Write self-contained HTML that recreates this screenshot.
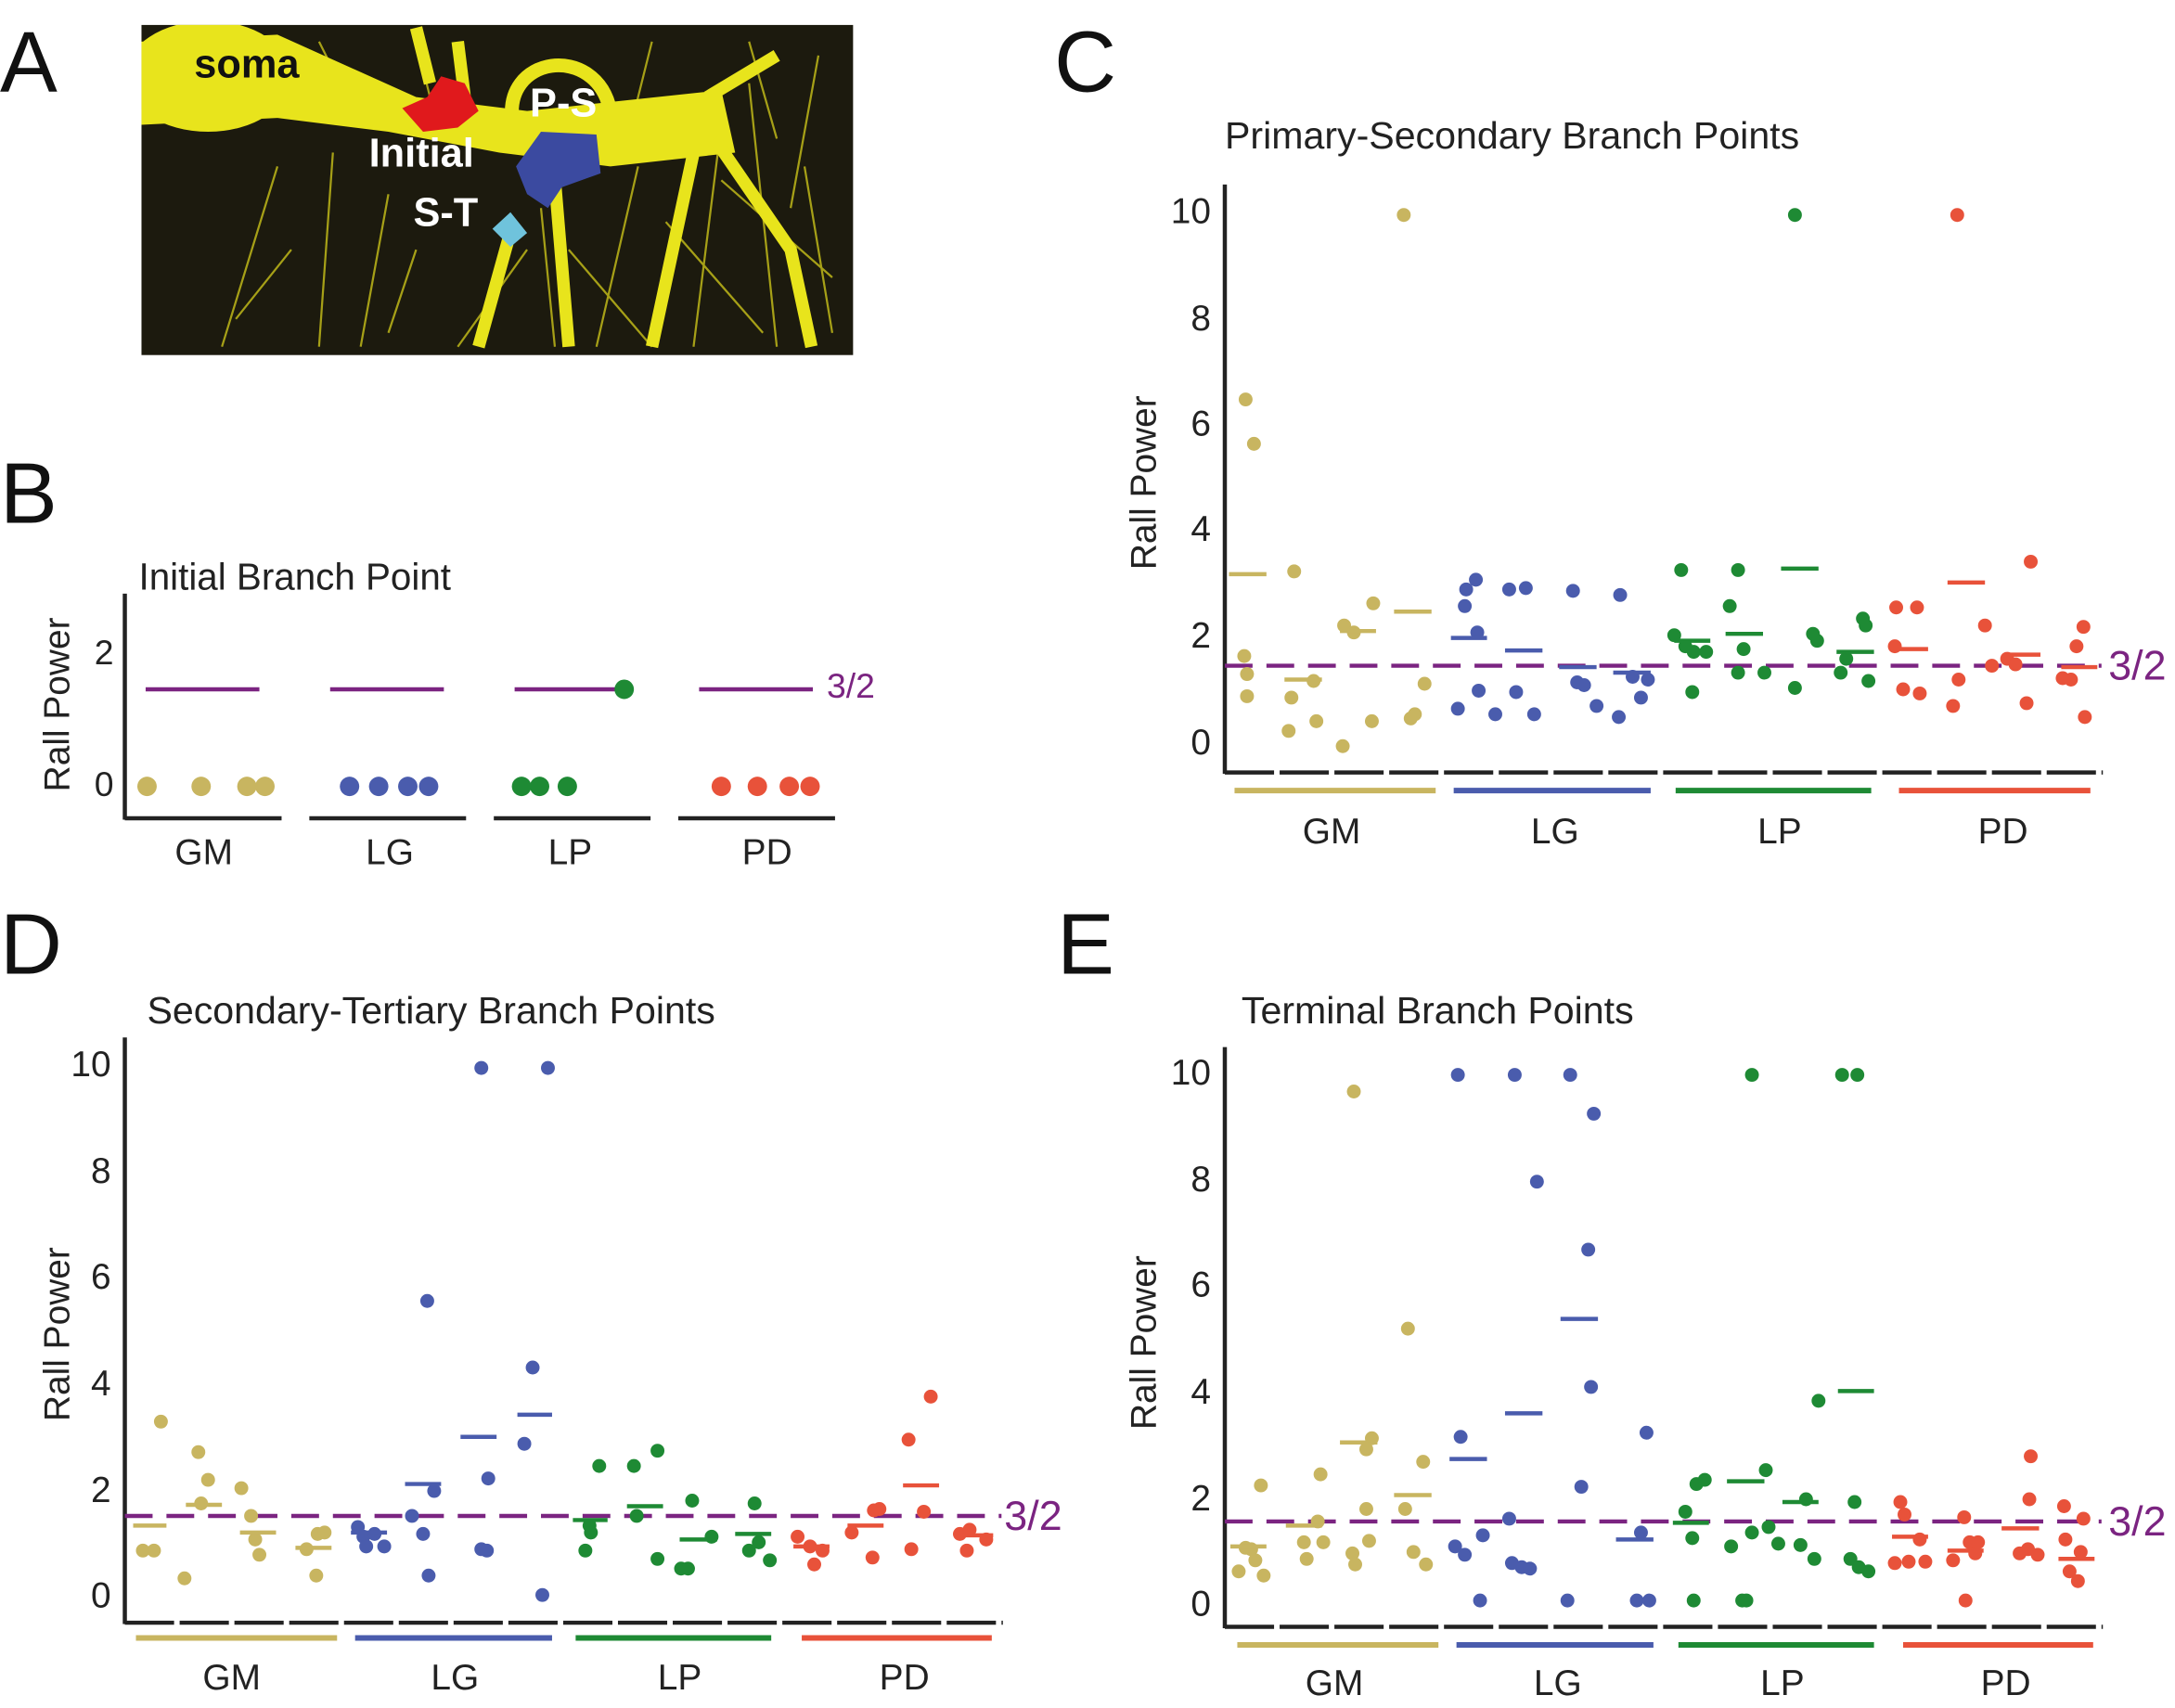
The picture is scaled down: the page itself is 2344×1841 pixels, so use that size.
<!DOCTYPE html>
<html><head><meta charset="utf-8"><style>
html,body{margin:0;padding:0;background:#fff;}
svg{display:block;}
text{font-family:"Liberation Sans",Arial,sans-serif;}
</style></head><body>
<svg width="2344" height="1841" viewBox="0 0 1568 1231.5" preserveAspectRatio="none" xmlns="http://www.w3.org/2000/svg">
<defs><clipPath id="ca"><rect x="102" y="18" width="513" height="238"/></clipPath></defs>
<rect width="1568" height="1232" fill="#fff"/>
<g font-size="62" fill="#111">
<text x="0" y="66">A</text><text x="0" y="377">B</text><text x="760" y="66">C</text><text x="0" y="702">D</text><text x="762" y="702">E</text>
</g>
<rect x="102" y="18" width="513" height="238" fill="#1c1a0e"/>
<g clip-path="url(#ca)">
<g stroke="#c9c21a" stroke-width="1.5" fill="none" opacity="0.8">
<path d="M160 250 L200 120 M230 250 L240 110 M260 250 L280 140 M400 250 L390 150 M430 250 L460 120 M500 250 L520 90 M560 250 L540 60 M600 240 L580 120 M470 30 L450 110 M540 30 L560 100 M590 40 L570 150 M230 30 L260 90 M300 30 L310 70 M410 180 L470 250 M380 180 L330 250 M210 180 L170 230 M520 130 L600 200 M480 160 L550 240 M300 180 L280 240"/>
</g>
<g fill="#e8e41c" stroke="#e8e41c">
<ellipse cx="150" cy="55" rx="60" ry="40" stroke="none"/>
<path d="M102 30 L200 25 L300 70 L380 80 L520 65 L530 110 L440 120 L360 110 L280 95 L200 85 L102 90 Z" stroke="none"/>
<path d="M370 90 C360 40 430 30 440 80" fill="none" stroke-width="10"/>
<path d="M510 70 L560 40 M515 100 L570 180 L585 250 M500 110 L470 250 M400 130 L410 250 M370 160 L345 250 M330 30 L335 70 M300 20 L310 60" fill="none" stroke-width="9"/>
</g>
</g>
<polygon points="290,78 308,70 318,55 335,60 345,80 330,92 305,95" fill="#e0191c"/>
<polygon points="372,120 390,95 430,97 433,125 405,135 395,150 380,140" fill="#3b4aa0"/>
<polygon points="355,165 368,153 380,168 368,178" fill="#6fc3dc"/>
<g font-weight="bold" font-size="29" fill="#fff">
<text x="140" y="56" fill="#111">soma</text><text x="382" y="84">P-S</text><text x="266" y="120">Initial</text><text x="298" y="163">S-T</text>
</g>

<!-- Panel B -->
<text x="100" y="425" font-size="27" fill="#222">Initial Branch Point</text>
<line x1="90" y1="428" x2="90" y2="591" stroke="#222" stroke-width="3"/>
<line x1="90" y1="590" x2="603" y2="590" stroke="#222" stroke-width="3" stroke-dasharray="113 20"/>
<g font-size="25" fill="#222" text-anchor="end"><text x="82" y="479">2</text><text x="82" y="574">0</text></g>
<text transform="translate(50,508) rotate(-90)" font-size="26" text-anchor="middle" fill="#222">Rall Power</text>
<g font-size="26" fill="#222" text-anchor="middle"><text x="147" y="623">GM</text><text x="281" y="623">LG</text><text x="411" y="623">LP</text><text x="553" y="623">PD</text></g>
<g stroke="#7b2481" stroke-width="3"><line x1="105" y1="497" x2="187" y2="497"/><line x1="238" y1="497" x2="320" y2="497"/><line x1="371" y1="497" x2="453" y2="497"/><line x1="504" y1="497" x2="586" y2="497"/></g>
<text x="596" y="503" font-size="25" fill="#7b2481">3/2</text>
<g fill="#c8b560"><circle cx="106" cy="567" r="7"/><circle cx="145" cy="567" r="7"/><circle cx="178" cy="567" r="7"/><circle cx="191" cy="567" r="7"/></g>
<g fill="#4a5cad"><circle cx="252" cy="567" r="7"/><circle cx="273" cy="567" r="7"/><circle cx="294" cy="567" r="7"/><circle cx="309" cy="567" r="7"/></g>
<g fill="#1e8a34"><circle cx="376" cy="567" r="7"/><circle cx="389" cy="567" r="7"/><circle cx="409" cy="567" r="7"/><circle cx="450" cy="497" r="7"/></g>
<g fill="#e8523a"><circle cx="520" cy="567" r="7"/><circle cx="546" cy="567" r="7"/><circle cx="569" cy="567" r="7"/><circle cx="584" cy="567" r="7"/></g>

<!-- Panel C -->
<text x="883" y="107" font-size="27.5" fill="#222">Primary-Secondary Branch Points</text>
<line x1="883" y1="133" x2="883" y2="558" stroke="#222" stroke-width="3"/>
<line x1="883" y1="557" x2="1516" y2="557" stroke="#222" stroke-width="3" stroke-dasharray="35.5 4"/>
<g font-size="26" fill="#222" text-anchor="end"><text x="873" y="161">10</text><text x="873" y="238">8</text><text x="873" y="314">6</text><text x="873" y="390">4</text><text x="873" y="467">2</text><text x="873" y="544">0</text></g>
<text transform="translate(833,348) rotate(-90)" font-size="26" text-anchor="middle" fill="#222">Rall Power</text>
<g stroke-width="4"><line x1="890" y1="570" x2="1035" y2="570" stroke="#c8b560"/><line x1="1048" y1="570" x2="1190" y2="570" stroke="#4a5cad"/><line x1="1208" y1="570" x2="1349" y2="570" stroke="#1e8a34"/><line x1="1369" y1="570" x2="1507" y2="570" stroke="#e8523a"/></g>
<g font-size="26" fill="#222" text-anchor="middle"><text x="960" y="608">GM</text><text x="1121" y="608">LG</text><text x="1283" y="608">LP</text><text x="1444" y="608">PD</text></g>
<line x1="883" y1="480" x2="1515" y2="480" stroke="#7b2481" stroke-width="3" stroke-dasharray="20 10"/>
<text x="1520" y="490" font-size="30" fill="#7b2481">3/2</text>
<g fill="#c8b560"><circle cx="897" cy="473" r="5"/><circle cx="899" cy="486" r="5"/><circle cx="899" cy="502" r="5"/><circle cx="898" cy="288" r="5"/><circle cx="904" cy="320" r="5"/><circle cx="933" cy="412" r="5"/><circle cx="931" cy="503" r="5"/><circle cx="929" cy="527" r="5"/><circle cx="947" cy="491" r="5"/><circle cx="949" cy="520" r="5"/><circle cx="968" cy="538" r="5"/><circle cx="969" cy="451" r="5"/><circle cx="976" cy="456" r="5"/><circle cx="990" cy="435" r="5"/><circle cx="989" cy="520" r="5"/><circle cx="1012" cy="155" r="5"/><circle cx="1017" cy="518" r="5"/><circle cx="1020" cy="515" r="5"/><circle cx="1027" cy="493" r="5"/></g>
<g stroke="#c8b560" stroke-width="3"><line x1="886" y1="414" x2="913" y2="414"/><line x1="926" y1="490" x2="953" y2="490"/><line x1="966" y1="455" x2="992" y2="455"/><line x1="1005" y1="441" x2="1032" y2="441"/></g>
<g fill="#4a5cad"><circle cx="1057" cy="425" r="5"/><circle cx="1064" cy="418" r="5"/><circle cx="1056" cy="437" r="5"/><circle cx="1065" cy="456" r="5"/><circle cx="1051" cy="511" r="5"/><circle cx="1066" cy="498" r="5"/><circle cx="1078" cy="515" r="5"/><circle cx="1088" cy="425" r="5"/><circle cx="1100" cy="424" r="5"/><circle cx="1093" cy="499" r="5"/><circle cx="1106" cy="515" r="5"/><circle cx="1134" cy="426" r="5"/><circle cx="1137" cy="492" r="5"/><circle cx="1142" cy="494" r="5"/><circle cx="1151" cy="509" r="5"/><circle cx="1168" cy="429" r="5"/><circle cx="1167" cy="517" r="5"/><circle cx="1183" cy="503" r="5"/><circle cx="1188" cy="490" r="5"/><circle cx="1177" cy="488" r="5"/></g>
<g stroke="#4a5cad" stroke-width="3"><line x1="1046" y1="460" x2="1072" y2="460"/><line x1="1085" y1="469" x2="1112" y2="469"/><line x1="1124" y1="481" x2="1151" y2="481"/><line x1="1163" y1="485" x2="1190" y2="485"/></g>
<g fill="#1e8a34"><circle cx="1212" cy="411" r="5"/><circle cx="1207" cy="458" r="5"/><circle cx="1215" cy="466" r="5"/><circle cx="1221" cy="470" r="5"/><circle cx="1230" cy="470" r="5"/><circle cx="1220" cy="499" r="5"/><circle cx="1253" cy="411" r="5"/><circle cx="1247" cy="437" r="5"/><circle cx="1257" cy="468" r="5"/><circle cx="1253" cy="485" r="5"/><circle cx="1272" cy="485" r="5"/><circle cx="1294" cy="155" r="5"/><circle cx="1294" cy="496" r="5"/><circle cx="1307" cy="457" r="5"/><circle cx="1310" cy="462" r="5"/><circle cx="1327" cy="485" r="5"/><circle cx="1343" cy="446" r="5"/><circle cx="1345" cy="451" r="5"/><circle cx="1347" cy="491" r="5"/><circle cx="1331" cy="475" r="5"/></g>
<g stroke="#1e8a34" stroke-width="3"><line x1="1207" y1="462" x2="1233" y2="462"/><line x1="1244" y1="457" x2="1271" y2="457"/><line x1="1284" y1="410" x2="1311" y2="410"/><line x1="1324" y1="470" x2="1351" y2="470"/></g>
<g fill="#e8523a"><circle cx="1367" cy="438" r="5"/><circle cx="1382" cy="438" r="5"/><circle cx="1366" cy="466" r="5"/><circle cx="1372" cy="497" r="5"/><circle cx="1384" cy="500" r="5"/><circle cx="1411" cy="155" r="5"/><circle cx="1431" cy="451" r="5"/><circle cx="1412" cy="490" r="5"/><circle cx="1408" cy="509" r="5"/><circle cx="1436" cy="480" r="5"/><circle cx="1464" cy="405" r="5"/><circle cx="1447" cy="475" r="5"/><circle cx="1453" cy="479" r="5"/><circle cx="1461" cy="507" r="5"/><circle cx="1502" cy="452" r="5"/><circle cx="1497" cy="466" r="5"/><circle cx="1493" cy="490" r="5"/><circle cx="1503" cy="517" r="5"/><circle cx="1487" cy="489" r="5"/></g>
<g stroke="#e8523a" stroke-width="3"><line x1="1364" y1="468" x2="1390" y2="468"/><line x1="1404" y1="420" x2="1431" y2="420"/><line x1="1445" y1="472" x2="1471" y2="472"/><line x1="1486" y1="481" x2="1512" y2="481"/></g>

<!-- Panel D -->
<text x="106" y="738" font-size="27.5" fill="#222">Secondary-Tertiary Branch Points</text>
<line x1="90" y1="748" x2="90" y2="1171" stroke="#222" stroke-width="3"/>
<line x1="90" y1="1170" x2="723" y2="1170" stroke="#222" stroke-width="3" stroke-dasharray="35.5 4"/>
<g font-size="26" fill="#222" text-anchor="end"><text x="80" y="776">10</text><text x="80" y="853">8</text><text x="80" y="929">6</text><text x="80" y="1006">4</text><text x="80" y="1083">2</text><text x="80" y="1159">0</text></g>
<text transform="translate(50,962) rotate(-90)" font-size="26" text-anchor="middle" fill="#222">Rall Power</text>
<g stroke-width="4"><line x1="98" y1="1181" x2="243" y2="1181" stroke="#c8b560"/><line x1="256" y1="1181" x2="398" y2="1181" stroke="#4a5cad"/><line x1="415" y1="1181" x2="556" y2="1181" stroke="#1e8a34"/><line x1="578" y1="1181" x2="715" y2="1181" stroke="#e8523a"/></g>
<g font-size="26" fill="#222" text-anchor="middle"><text x="167" y="1218">GM</text><text x="328" y="1218">LG</text><text x="490" y="1218">LP</text><text x="652" y="1218">PD</text></g>
<line x1="90" y1="1093" x2="722" y2="1093" stroke="#7b2481" stroke-width="3" stroke-dasharray="20 10"/>
<text x="724" y="1103" font-size="30" fill="#7b2481">3/2</text>
<g fill="#c8b560"><circle cx="103" cy="1118" r="5"/><circle cx="111" cy="1118" r="5"/><circle cx="116" cy="1025" r="5"/><circle cx="133" cy="1138" r="5"/><circle cx="143" cy="1047" r="5"/><circle cx="150" cy="1067" r="5"/><circle cx="145" cy="1084" r="5"/><circle cx="174" cy="1073" r="5"/><circle cx="181" cy="1093" r="5"/><circle cx="184" cy="1110" r="5"/><circle cx="187" cy="1121" r="5"/><circle cx="229" cy="1106" r="5"/><circle cx="228" cy="1136" r="5"/><circle cx="234" cy="1105" r="5"/><circle cx="221" cy="1117" r="5"/></g>
<g stroke="#c8b560" stroke-width="3"><line x1="96" y1="1100" x2="120" y2="1100"/><line x1="134" y1="1085" x2="160" y2="1085"/><line x1="173" y1="1105" x2="199" y2="1105"/><line x1="213" y1="1116" x2="239" y2="1116"/></g>
<g fill="#4a5cad"><circle cx="258" cy="1101" r="5"/><circle cx="262" cy="1108" r="5"/><circle cx="270" cy="1106" r="5"/><circle cx="264" cy="1115" r="5"/><circle cx="277" cy="1115" r="5"/><circle cx="297" cy="1093" r="5"/><circle cx="313" cy="1075" r="5"/><circle cx="305" cy="1106" r="5"/><circle cx="309" cy="1136" r="5"/><circle cx="308" cy="938" r="5"/><circle cx="347" cy="770" r="5"/><circle cx="352" cy="1066" r="5"/><circle cx="347" cy="1117" r="5"/><circle cx="351" cy="1118" r="5"/><circle cx="395" cy="770" r="5"/><circle cx="384" cy="986" r="5"/><circle cx="378" cy="1041" r="5"/><circle cx="391" cy="1150" r="5"/></g>
<g stroke="#4a5cad" stroke-width="3"><line x1="253" y1="1105" x2="279" y2="1105"/><line x1="292" y1="1070" x2="318" y2="1070"/><line x1="332" y1="1036" x2="358" y2="1036"/><line x1="373" y1="1020" x2="398" y2="1020"/></g>
<g fill="#1e8a34"><circle cx="432" cy="1057" r="5"/><circle cx="426" cy="1105" r="5"/><circle cx="422" cy="1118" r="5"/><circle cx="425" cy="1100" r="5"/><circle cx="457" cy="1057" r="5"/><circle cx="459" cy="1093" r="5"/><circle cx="474" cy="1046" r="5"/><circle cx="474" cy="1124" r="5"/><circle cx="491" cy="1131" r="5"/><circle cx="496" cy="1131" r="5"/><circle cx="499" cy="1082" r="5"/><circle cx="513" cy="1108" r="5"/><circle cx="544" cy="1084" r="5"/><circle cx="547" cy="1112" r="5"/><circle cx="555" cy="1125" r="5"/><circle cx="540" cy="1118" r="5"/></g>
<g stroke="#1e8a34" stroke-width="3"><line x1="413" y1="1096" x2="438" y2="1096"/><line x1="452" y1="1086" x2="478" y2="1086"/><line x1="490" y1="1110" x2="517" y2="1110"/><line x1="530" y1="1106" x2="556" y2="1106"/></g>
<g fill="#e8523a"><circle cx="575" cy="1108" r="5"/><circle cx="584" cy="1115" r="5"/><circle cx="593" cy="1118" r="5"/><circle cx="587" cy="1128" r="5"/><circle cx="630" cy="1089" r="5"/><circle cx="634" cy="1088" r="5"/><circle cx="629" cy="1123" r="5"/><circle cx="614" cy="1105" r="5"/><circle cx="655" cy="1038" r="5"/><circle cx="657" cy="1117" r="5"/><circle cx="666" cy="1090" r="5"/><circle cx="671" cy="1007" r="5"/><circle cx="692" cy="1106" r="5"/><circle cx="697" cy="1118" r="5"/><circle cx="711" cy="1110" r="5"/><circle cx="699" cy="1103" r="5"/></g>
<g stroke="#e8523a" stroke-width="3"><line x1="572" y1="1115" x2="598" y2="1115"/><line x1="611" y1="1100" x2="637" y2="1100"/><line x1="651" y1="1071" x2="677" y2="1071"/><line x1="690" y1="1107" x2="716" y2="1107"/></g>

<!-- Panel E -->
<text x="895" y="738" font-size="27.5" fill="#222">Terminal Branch Points</text>
<line x1="883" y1="755" x2="883" y2="1174" stroke="#222" stroke-width="3"/>
<line x1="883" y1="1173" x2="1516" y2="1173" stroke="#222" stroke-width="3" stroke-dasharray="35.5 4"/>
<g font-size="26" fill="#222" text-anchor="end"><text x="873" y="782">10</text><text x="873" y="859">8</text><text x="873" y="935">6</text><text x="873" y="1012">4</text><text x="873" y="1089">2</text><text x="873" y="1165">0</text></g>
<text transform="translate(833,968) rotate(-90)" font-size="26" text-anchor="middle" fill="#222">Rall Power</text>
<g stroke-width="4"><line x1="892" y1="1186" x2="1037" y2="1186" stroke="#c8b560"/><line x1="1050" y1="1186" x2="1192" y2="1186" stroke="#4a5cad"/><line x1="1210" y1="1186" x2="1351" y2="1186" stroke="#1e8a34"/><line x1="1372" y1="1186" x2="1509" y2="1186" stroke="#e8523a"/></g>
<g font-size="26" fill="#222" text-anchor="middle"><text x="962" y="1222">GM</text><text x="1123" y="1222">LG</text><text x="1285" y="1222">LP</text><text x="1446" y="1222">PD</text></g>
<line x1="883" y1="1097" x2="1515" y2="1097" stroke="#7b2481" stroke-width="3" stroke-dasharray="20 10"/>
<text x="1520" y="1107" font-size="30" fill="#7b2481">3/2</text>
<g fill="#c8b560"><circle cx="893" cy="1133" r="5"/><circle cx="898" cy="1116" r="5"/><circle cx="902" cy="1117" r="5"/><circle cx="909" cy="1071" r="5"/><circle cx="911" cy="1136" r="5"/><circle cx="905" cy="1125" r="5"/><circle cx="942" cy="1124" r="5"/><circle cx="950" cy="1097" r="5"/><circle cx="952" cy="1063" r="5"/><circle cx="954" cy="1112" r="5"/><circle cx="940" cy="1112" r="5"/><circle cx="976" cy="787" r="5"/><circle cx="985" cy="1045" r="5"/><circle cx="989" cy="1037" r="5"/><circle cx="985" cy="1088" r="5"/><circle cx="977" cy="1128" r="5"/><circle cx="975" cy="1120" r="5"/><circle cx="987" cy="1111" r="5"/><circle cx="1015" cy="958" r="5"/><circle cx="1026" cy="1054" r="5"/><circle cx="1013" cy="1088" r="5"/><circle cx="1019" cy="1119" r="5"/><circle cx="1028" cy="1128" r="5"/></g>
<g stroke="#c8b560" stroke-width="3"><line x1="887" y1="1115" x2="913" y2="1115"/><line x1="927" y1="1100" x2="953" y2="1100"/><line x1="966" y1="1040" x2="993" y2="1040"/><line x1="1005" y1="1078" x2="1032" y2="1078"/></g>
<g fill="#4a5cad"><circle cx="1051" cy="775" r="5"/><circle cx="1053" cy="1036" r="5"/><circle cx="1049" cy="1115" r="5"/><circle cx="1056" cy="1121" r="5"/><circle cx="1069" cy="1107" r="5"/><circle cx="1067" cy="1154" r="5"/><circle cx="1092" cy="775" r="5"/><circle cx="1088" cy="1095" r="5"/><circle cx="1090" cy="1127" r="5"/><circle cx="1097" cy="1130" r="5"/><circle cx="1103" cy="1131" r="5"/><circle cx="1108" cy="852" r="5"/><circle cx="1132" cy="775" r="5"/><circle cx="1149" cy="803" r="5"/><circle cx="1145" cy="901" r="5"/><circle cx="1140" cy="1072" r="5"/><circle cx="1147" cy="1000" r="5"/><circle cx="1130" cy="1154" r="5"/><circle cx="1187" cy="1033" r="5"/><circle cx="1180" cy="1154" r="5"/><circle cx="1189" cy="1154" r="5"/><circle cx="1183" cy="1105" r="5"/></g>
<g stroke="#4a5cad" stroke-width="3"><line x1="1045" y1="1052" x2="1072" y2="1052"/><line x1="1085" y1="1019" x2="1112" y2="1019"/><line x1="1125" y1="951" x2="1152" y2="951"/><line x1="1165" y1="1110" x2="1192" y2="1110"/></g>
<g fill="#1e8a34"><circle cx="1215" cy="1090" r="5"/><circle cx="1223" cy="1070" r="5"/><circle cx="1229" cy="1067" r="5"/><circle cx="1220" cy="1109" r="5"/><circle cx="1221" cy="1154" r="5"/><circle cx="1248" cy="1115" r="5"/><circle cx="1256" cy="1154" r="5"/><circle cx="1259" cy="1154" r="5"/><circle cx="1263" cy="1105" r="5"/><circle cx="1263" cy="775" r="5"/><circle cx="1273" cy="1060" r="5"/><circle cx="1275" cy="1101" r="5"/><circle cx="1282" cy="1113" r="5"/><circle cx="1302" cy="1081" r="5"/><circle cx="1298" cy="1114" r="5"/><circle cx="1308" cy="1124" r="5"/><circle cx="1311" cy="1010" r="5"/><circle cx="1328" cy="775" r="5"/><circle cx="1339" cy="775" r="5"/><circle cx="1337" cy="1083" r="5"/><circle cx="1334" cy="1124" r="5"/><circle cx="1347" cy="1133" r="5"/><circle cx="1340" cy="1130" r="5"/></g>
<g stroke="#1e8a34" stroke-width="3"><line x1="1206" y1="1098" x2="1232" y2="1098"/><line x1="1245" y1="1068" x2="1272" y2="1068"/><line x1="1285" y1="1083" x2="1311" y2="1083"/><line x1="1325" y1="1003" x2="1351" y2="1003"/></g>
<g fill="#e8523a"><circle cx="1370" cy="1083" r="5"/><circle cx="1373" cy="1092" r="5"/><circle cx="1384" cy="1110" r="5"/><circle cx="1376" cy="1126" r="5"/><circle cx="1366" cy="1127" r="5"/><circle cx="1388" cy="1126" r="5"/><circle cx="1416" cy="1094" r="5"/><circle cx="1420" cy="1112" r="5"/><circle cx="1408" cy="1125" r="5"/><circle cx="1417" cy="1154" r="5"/><circle cx="1424" cy="1120" r="5"/><circle cx="1426" cy="1112" r="5"/><circle cx="1464" cy="1050" r="5"/><circle cx="1463" cy="1081" r="5"/><circle cx="1456" cy="1120" r="5"/><circle cx="1462" cy="1117" r="5"/><circle cx="1469" cy="1121" r="5"/><circle cx="1488" cy="1086" r="5"/><circle cx="1489" cy="1110" r="5"/><circle cx="1500" cy="1119" r="5"/><circle cx="1492" cy="1133" r="5"/><circle cx="1502" cy="1095" r="5"/><circle cx="1498" cy="1140" r="5"/></g>
<g stroke="#e8523a" stroke-width="3"><line x1="1364" y1="1108" x2="1390" y2="1108"/><line x1="1404" y1="1118" x2="1430" y2="1118"/><line x1="1443" y1="1102" x2="1470" y2="1102"/><line x1="1484" y1="1124" x2="1510" y2="1124"/></g>
</svg>
</body></html>
